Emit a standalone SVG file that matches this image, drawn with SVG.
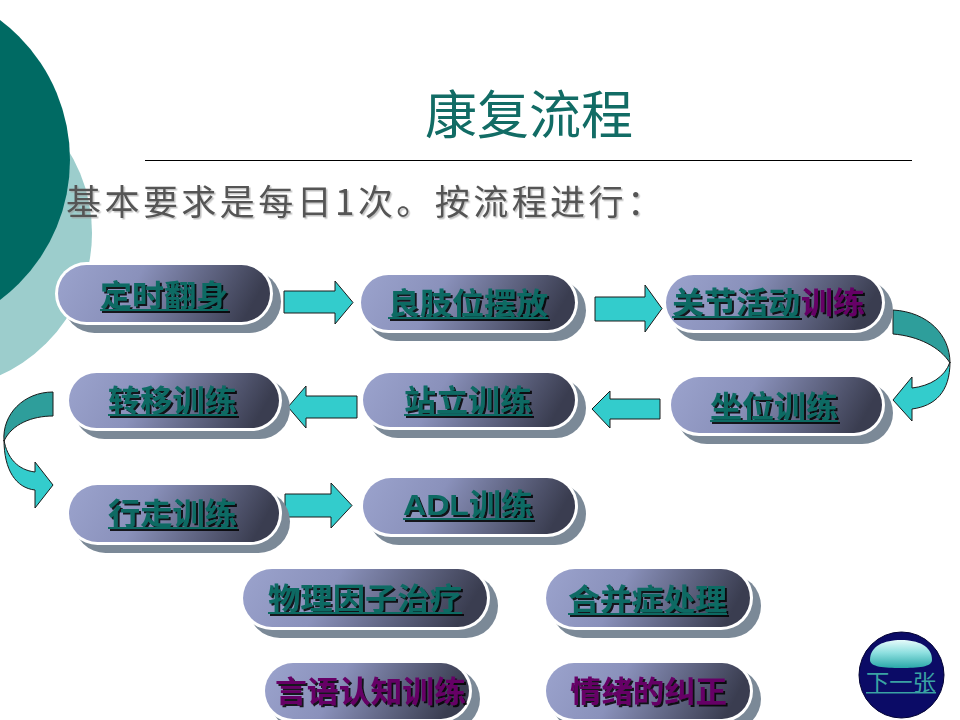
<svg xmlns="http://www.w3.org/2000/svg" width="960" height="720" viewBox="0 0 960 720">
<defs>
<linearGradient id="bg" x1="0" y1="0" x2="1" y2="0.15">
<stop offset="0" stop-color="#9ba3cd"/>
<stop offset="0.4" stop-color="#8a91bb"/>
<stop offset="1" stop-color="#3a3d50"/>
</linearGradient>
<linearGradient id="hl" x1="0" y1="0" x2="0" y2="1">
<stop offset="0" stop-color="#e6fbfb"/>
<stop offset="0.45" stop-color="#8fe0e0"/>
<stop offset="1" stop-color="#2aa9a9"/>
</linearGradient>
<filter id="ts" x="-10%" y="-20%" width="130%" height="150%">
<feDropShadow dx="2" dy="2" stdDeviation="0.3" flood-color="#000" flood-opacity="0.85"/>
</filter>
<filter id="ss" x="-5%" y="-20%" width="115%" height="150%">
<feDropShadow dx="1.5" dy="1.5" stdDeviation="0.6" flood-color="#999" flood-opacity="0.6"/>
</filter>
</defs>
<style>
.sh{fill:#7b8997}
.wh{fill:#ffffff}
.gr{fill:url(#bg)}
.lbl{font-family:"Liberation Sans","Noto Sans CJK SC",sans-serif;font-weight:bold;font-size:30px}
.tl{fill:#0c6a64}
.pp{fill:#660066}
.ar{fill:#33cccc;stroke:#1a1a1a;stroke-width:1}
.ard{fill:#2e9e9b;stroke:#1a1a1a;stroke-width:1}
</style>
<rect width="960" height="720" fill="#ffffff"/>
<g id="decor">
<circle cx="-64" cy="233" r="156" fill="#9ccdcc"/>
<circle cx="-105" cy="160" r="175" fill="#006a63"/>
</g>
<g id="title">
<text x="529" y="134" text-anchor="middle" font-family="Noto Sans CJK SC, sans-serif" font-size="52" fill="#126c65">康复流程</text>
<line x1="145" y1="160.5" x2="912" y2="160.5" stroke="#000" stroke-width="1.2"/>
<text x="66" y="215" font-family="Noto Sans CJK SC, sans-serif" font-size="35" fill="#555555" filter="url(#ss)" textLength="596" lengthAdjust="spacing">基本要求是每日1次。按流程进行：</text>
</g>
<g id="connectors">
<path class="ar" d="M284,291 L335,291 L335,281 L353,302.5 L335,324 L335,313 L284,313 Z"/>
<path class="ar" d="M595,297 L645,297 L645,285 L662,308.5 L645,332 L645,321 L595,321 Z"/>
<path class="ar" d="M660,399 L610,399 L610,391 L592,409 L610,428 L610,419 L660,419 Z"/>
<path class="ar" d="M357,396 L306,396 L306,386 L288,407 L306,428 L306,418 L357,418 Z"/>
<path class="ar" d="M285,494 L331,494 L331,483 L352,505.5 L331,528 L331,517 L285,517 Z"/>
<path class="ard" d="M893,310 C928,312 950,335 950,363 C940,347 918,336 893,334 Z"/>
<path class="ar" d="M950,362 C950,392 935,406 912,409 L912,421 L893,400 L912,377 L912,388 C930,386 945,377 950,362 Z"/>
<path class="ard" d="M53,392 L53,416 C32,416 12,424 4,441 C2,414 24,392 53,392 Z"/>
<path class="ar" d="M4,440 C4,470 16,488 35,490 L35,508 L53,485 L35,462 L35,472 C18,470 7,458 4,440 Z"/>
</g>
<g id="n1">
<rect class="sh" x="63" y="270" width="218" height="63" rx="31.5"/>
<rect class="wh" x="55" y="262" width="218" height="63" rx="31.5"/>
<rect class="gr" x="58" y="265" width="212" height="57" rx="28.5"/>
<g filter="url(#ts)" class="tl"><text class="lbl" x="100" y="306" textLength="128" lengthAdjust="spacingAndGlyphs">定时翻身</text><rect x="100" y="309" width="128" height="2"/></g>
</g>
<g id="n2">
<rect class="sh" x="366" y="280" width="220" height="61" rx="30.5"/>
<rect class="wh" x="358" y="272" width="220" height="61" rx="30.5"/>
<rect class="gr" x="361" y="275" width="214" height="55" rx="27.5"/>
<g filter="url(#ts)" class="tl"><text class="lbl" x="388" y="314" textLength="160" lengthAdjust="spacingAndGlyphs">良肢位摆放</text><rect x="388" y="317" width="160" height="2"/></g>
</g>
<g id="n3">
<rect class="sh" x="671" y="280" width="222" height="61" rx="30.5"/>
<rect class="wh" x="663" y="272" width="222" height="61" rx="30.5"/>
<rect class="gr" x="666" y="275" width="216" height="55" rx="27.5"/>
<g filter="url(#ts)"><text class="lbl tl" x="672" y="313" textLength="128" lengthAdjust="spacingAndGlyphs">关节活动</text><rect class="tl" x="672" y="316" width="128" height="2"/><text class="lbl pp" x="801" y="313" textLength="64" lengthAdjust="spacingAndGlyphs">训练</text></g>
</g>
<g id="n4">
<rect class="sh" x="676" y="382" width="217" height="62" rx="31"/>
<rect class="wh" x="668" y="374" width="217" height="62" rx="31"/>
<rect class="gr" x="671" y="377" width="211" height="56" rx="28"/>
<g filter="url(#ts)" class="tl"><text class="lbl" x="710" y="417" textLength="128" lengthAdjust="spacingAndGlyphs">坐位训练</text><rect x="710" y="420" width="128" height="2"/></g>
</g>
<g id="n5">
<rect class="sh" x="368" y="378" width="218" height="60" rx="30"/>
<rect class="wh" x="360" y="370" width="218" height="60" rx="30"/>
<rect class="gr" x="363" y="373" width="212" height="54" rx="27"/>
<g filter="url(#ts)" class="tl"><text class="lbl" x="404" y="411" textLength="128" lengthAdjust="spacingAndGlyphs">站立训练</text><rect x="404" y="414" width="128" height="2"/></g>
</g>
<g id="n6">
<rect class="sh" x="74" y="378" width="216" height="61" rx="30.5"/>
<rect class="wh" x="66" y="370" width="216" height="61" rx="30.5"/>
<rect class="gr" x="69" y="373" width="210" height="55" rx="27.5"/>
<g filter="url(#ts)" class="tl"><text class="lbl" x="108" y="411" textLength="129" lengthAdjust="spacingAndGlyphs">转移训练</text><rect x="108" y="414" width="129" height="2"/></g>
</g>
<g id="n7">
<rect class="sh" x="74" y="490" width="216" height="63" rx="31.5"/>
<rect class="wh" x="66" y="482" width="216" height="63" rx="31.5"/>
<rect class="gr" x="69" y="485" width="210" height="57" rx="28.5"/>
<g filter="url(#ts)" class="tl"><text class="lbl" x="108" y="524" textLength="129" lengthAdjust="spacingAndGlyphs">行走训练</text><rect x="108" y="527" width="129" height="2"/></g>
</g>
<g id="n8">
<rect class="sh" x="368" y="483" width="218" height="62" rx="31"/>
<rect class="wh" x="360" y="475" width="218" height="62" rx="31"/>
<rect class="gr" x="363" y="478" width="212" height="56" rx="28"/>
<g filter="url(#ts)" class="tl"><text class="lbl" x="403" y="515" textLength="130" lengthAdjust="spacingAndGlyphs">ADL训练</text><rect x="403" y="518" width="130" height="2"/></g>
</g>
<g id="n9">
<rect class="sh" x="248" y="574" width="250" height="64" rx="32"/>
<rect class="wh" x="240" y="566" width="250" height="64" rx="32"/>
<rect class="gr" x="243" y="569" width="244" height="58" rx="29"/>
<g filter="url(#ts)" class="tl"><text class="lbl" x="268" y="609" textLength="194" lengthAdjust="spacingAndGlyphs">物理因子治疗</text><rect x="268" y="612" width="194" height="2"/></g>
</g>
<g id="n10">
<rect class="sh" x="551" y="574" width="210" height="64" rx="32"/>
<rect class="wh" x="543" y="566" width="210" height="64" rx="32"/>
<rect class="gr" x="546" y="569" width="204" height="58" rx="29"/>
<g filter="url(#ts)" class="tl"><text class="lbl" x="568" y="610" textLength="159" lengthAdjust="spacingAndGlyphs">合并症处理</text><rect x="568" y="613" width="159" height="2"/></g>
</g>
<g id="n11">
<rect class="sh" x="270" y="668" width="210" height="62" rx="31"/>
<rect class="wh" x="262" y="660" width="210" height="62" rx="31"/>
<rect class="gr" x="265" y="663" width="204" height="56" rx="28"/>
<g filter="url(#ts)"><text class="lbl pp" x="275" y="702" textLength="191" lengthAdjust="spacingAndGlyphs">言语认知训练</text></g>
</g>
<g id="n12">
<rect class="sh" x="551" y="668" width="210" height="62" rx="31"/>
<rect class="wh" x="543" y="660" width="210" height="62" rx="31"/>
<rect class="gr" x="546" y="663" width="204" height="56" rx="28"/>
<g filter="url(#ts)"><text class="lbl pp" x="570" y="702" textLength="157" lengthAdjust="spacingAndGlyphs">情绪的纠正</text></g>
</g>
<g id="next">
<ellipse cx="901.5" cy="675" rx="42.5" ry="43" fill="#0b0b66" stroke="#000033" stroke-width="1"/>
<path d="M870,660 C870,646 884,640 901,640 C918,640 932,646 932,660 C932,667 918,668 901,668 C884,668 870,667 870,660 Z" fill="url(#hl)"/>
<text x="866" y="690" font-family="Liberation Sans, Noto Sans CJK SC, sans-serif" font-size="22" fill="#3aa3a3" textLength="70" lengthAdjust="spacingAndGlyphs">下一张</text>
<rect x="866" y="692" width="70" height="1.5" fill="#3aa3a3"/>
</g>
</svg>
